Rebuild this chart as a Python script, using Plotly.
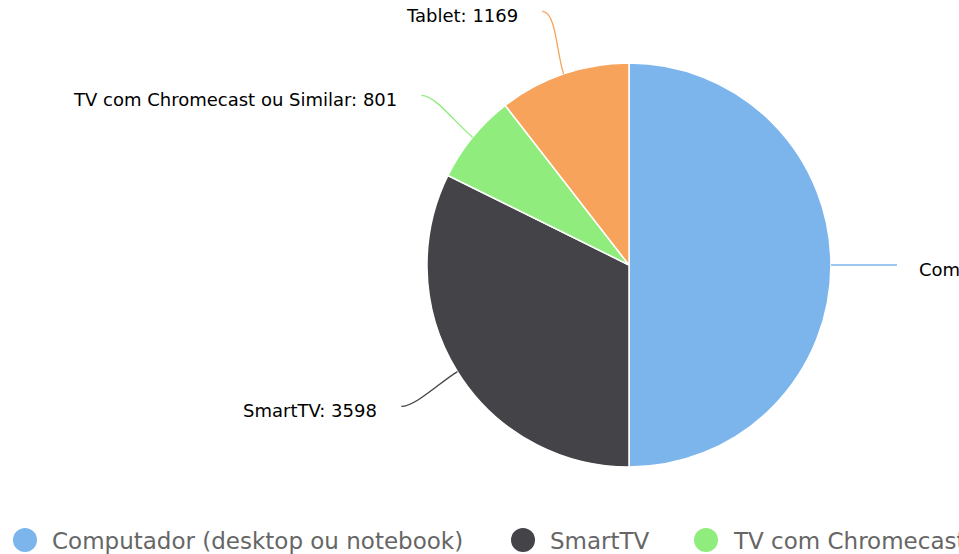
import math
import plotly.graph_objects as go

labels = ["Computador (desktop ou notebook)", "SmartTV", "TV com Chromecast ou Similar", "Tablet"]
values = [5568, 3598, 801, 1169]
colors = ["#7cb5ec", "#434348", "#90ed7d", "#f7a35c"]

W, H = 959, 554
cx, cy, R = 629, 265, 202
conn_r = R + 66
gap = 22
# visible legend items (the rest of the Highcharts legend row is outside the page)
legend_x = [25, 523, 706]

def px2paper(x, y):
    return x / W, 1 - y / H

fig = go.Figure()
fig.add_trace(go.Pie(
    labels=labels, values=values, sort=False, direction="clockwise", rotation=0,
    marker=dict(colors=colors, line=dict(color="#ffffff", width=1.5)),
    textinfo="none", showlegend=False,
    domain=dict(x=[(cx - R) / W, (cx + R) / W], y=[1 - (cy + R) / H, 1 - (cy - R) / H]),
))

total = sum(values)
cum = 0
shapes = []
annotations = []
for lab, v, col in zip(labels, values, colors):
    mid = (cum + v / 2) / total * 2 * math.pi
    cum += v
    s, c = math.sin(mid), math.cos(mid)
    ex, ey = cx + R * s, cy - R * c
    ax, ay = cx + conn_r * s, cy - conn_r * c
    right = s > 0
    d = 1 if right else -1
    c1x, c1y = ax - d * 14, ay
    c2x, c2y = cx + (R + 22) * s, cy - (R + 22) * c
    if abs(c) < 0.02:
        c1y = c2y = ay
    p = [px2paper(ax, ay), px2paper(c1x, c1y), px2paper(c2x, c2y), px2paper(ex, ey)]
    path = "M {:.5f},{:.5f} C {:.5f},{:.5f} {:.5f},{:.5f} {:.5f},{:.5f}".format(
        p[0][0], p[0][1], p[1][0], p[1][1], p[2][0], p[2][1], p[3][0], p[3][1])
    shapes.append(dict(type="path", path=path, xref="paper", yref="paper",
                       line=dict(color=col, width=1.3)))
    tx = ax + 20 if right else ax - gap
    txp, typ = px2paper(tx, ay + 4)
    annotations.append(dict(
        x=txp, y=typ, xref="paper", yref="paper", showarrow=False,
        text="{}: {}".format(lab, v), xanchor="left" if right else "right", yanchor="middle",
        font=dict(family="DejaVu Sans", size=18, color="#000000"),
    ))

# legend (Highcharts-style horizontal row, clipped by the page edge)
for lx, lab, col in zip(legend_x, labels, colors):
    ly = 540
    x0, y0 = px2paper(lx - 12, ly - 12)
    x1, y1 = px2paper(lx + 12, ly + 12)
    shapes.append(dict(type="circle", xref="paper", yref="paper", x0=x0, x1=x1, y0=y1, y1=y0,
                       fillcolor=col, line=dict(width=0)))
    tx, ty = px2paper(lx + 25, ly + 1)
    annotations.append(dict(
        x=tx, y=ty, xref="paper", yref="paper", showarrow=False, text=lab,
        xanchor="left", yanchor="middle",
        font=dict(family="DejaVu Sans", size=23, color="#666666"),
    ))

fig.update_layout(
    width=W, height=H, margin=dict(l=0, r=0, t=0, b=0),
    paper_bgcolor="#ffffff", plot_bgcolor="#ffffff",
    shapes=shapes, annotations=annotations, showlegend=False,
)
fig.write_html("out.html", config={"displayModeBar": False},
               post_script="document.body.style.margin='0';document.body.style.overflow='hidden';")
